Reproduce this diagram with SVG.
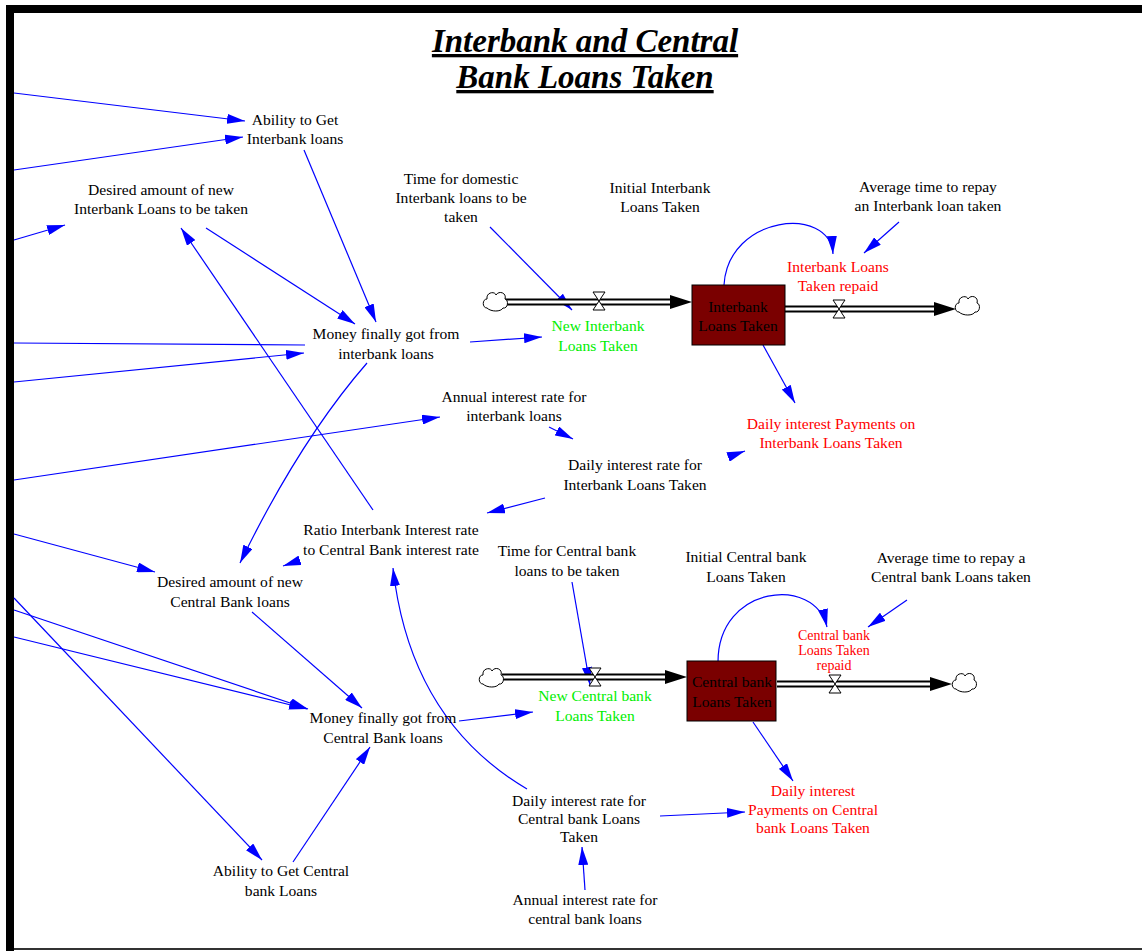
<svg xmlns="http://www.w3.org/2000/svg" width="1142" height="951" viewBox="0 0 1142 951">
<style>
text{font-family:"Liberation Serif","Times New Roman",serif;font-size:15.6px;text-anchor:middle;fill:#000}
.red{fill:#ff0000}
.grn{fill:#00ee00}
.sm{font-size:14px}
.title{font-size:33px;font-weight:bold;font-style:italic;text-decoration:underline}
.lk{fill:none;stroke:#0000ff;stroke-width:1.2;marker-end:url(#ah)}
.ln{fill:none;stroke:#0000ff;stroke-width:1.2}
.pipe{stroke:#000;stroke-width:7;fill:none}
.pipein{stroke:#fff;stroke-width:3;fill:none}
.valve{fill:#fff;stroke:#000;stroke-width:1}
.cloud{fill:#fff;stroke:#000;stroke-width:1}
.stock{fill:#7a0000;stroke:#000;stroke-width:1}
</style>
<defs>
<marker id="ah" viewBox="0 0 18 10" refX="18" refY="5" markerWidth="18" markerHeight="10" markerUnits="userSpaceOnUse" orient="auto">
<path d="M0,0 L18,5 L0,10 Z" fill="#0000ff"/>
</marker>
<path id="cl" class="cloud" d="M-8,7 C-13,7 -13,-2 -8,-2 C-9,-9 0,-10 1,-6 C4,-11 12,-8 10,-2 C14,-1 13,8 8,7 C6,11 -4,11 -8,7 Z"/>
<path id="vl" class="valve" d="M-6,-9 L6,-9 L-6,9 L6,9 Z"/>
</defs>
<rect width="1142" height="951" fill="#fff"/>
<g id="frame">
<rect x="6" y="5" width="1136" height="8" fill="#000"/>
<rect x="6" y="5" width="8" height="946" fill="#000"/>
<rect x="14" y="948" width="1128" height="2" fill="#333"/>
</g>
<g id="title">
<text class="title" x="585" y="52">Interbank and Central</text>
<text class="title" x="585" y="88">Bank Loans Taken</text>
</g>
<g id="connectors">
<line class="lk" x1="14" y1="93" x2="245" y2="121"/>
<line class="lk" x1="14" y1="170" x2="243" y2="137"/>
<line class="lk" x1="14" y1="240" x2="65" y2="225"/>
<line class="lk" x1="304" y1="150" x2="376" y2="322"/>
<line class="lk" x1="206" y1="228" x2="355" y2="324"/>
<line class="lk" x1="373" y1="510" x2="181" y2="228"/>
<line class="ln" x1="14" y1="343" x2="305" y2="345"/>
<line class="lk" x1="14" y1="382" x2="304" y2="353"/>
<path class="lk" d="M367,363 Q300,440 240,563"/>
<line class="lk" x1="14" y1="480" x2="440" y2="417"/>
<line class="lk" x1="14" y1="534" x2="155" y2="572"/>
<line class="lk" x1="545" y1="498" x2="487" y2="513"/>
<line class="lk" x1="549" y1="427" x2="573" y2="439"/>
<line class="lk" x1="728" y1="457" x2="745" y2="451"/>
<line class="lk" x1="763" y1="345" x2="795" y2="403"/>
<line class="lk" x1="490" y1="227" x2="572" y2="310"/>
<line class="lk" x1="470" y1="342" x2="542" y2="337"/>
<path class="lk" d="M724,285 C728,215 830,205 833,254"/>
<line class="lk" x1="899" y1="222" x2="864" y2="253"/>
<line class="lk" x1="572" y1="582" x2="590" y2="685"/>
<line class="lk" x1="459" y1="721" x2="533" y2="712"/>
<path class="lk" d="M718,662 C718,585 815,575 827,627"/>
<line class="lk" x1="907" y1="600" x2="868" y2="627"/>
<line class="lk" x1="753" y1="722" x2="793" y2="781"/>
<line class="lk" x1="660" y1="816" x2="745" y2="812"/>
<line class="lk" x1="585" y1="890" x2="582" y2="847"/>
<path class="lk" d="M527,789 Q410,720 393,568"/>
<line class="lk" x1="298" y1="561" x2="283" y2="566"/>
<line class="lk" x1="252" y1="612" x2="362" y2="708"/>
<line class="lk" x1="14" y1="610" x2="308" y2="709"/>
<line class="lk" x1="14" y1="637" x2="307" y2="709"/>
<line class="lk" x1="14" y1="598" x2="262" y2="860"/>
<line class="lk" x1="293" y1="862" x2="370" y2="747"/>
</g>
<g id="flow-interbank-in">
<line class="pipe" x1="505" y1="302" x2="672" y2="302"/>
<line class="pipein" x1="505" y1="302" x2="672" y2="302"/>
<polygon points="670,295 692,302 670,309" fill="#000"/>
<use href="#cl" x="495" y="301"/>
<use href="#vl" x="599" y="301"/>
</g>
<g id="flow-interbank-out">
<line class="pipe" x1="785" y1="309" x2="936" y2="309"/>
<line class="pipein" x1="785" y1="309" x2="936" y2="309"/>
<polygon points="934,302 956,309 934,316" fill="#000"/>
<use href="#cl" x="967" y="305"/>
<use href="#vl" x="839" y="309"/>
</g>
<g id="flow-central-in">
<line class="pipe" x1="502" y1="677" x2="667" y2="677"/>
<line class="pipein" x1="502" y1="677" x2="667" y2="677"/>
<polygon points="665,670 687,677 665,684" fill="#000"/>
<use href="#cl" x="491" y="677"/>
<use href="#vl" x="595" y="677"/>
</g>
<g id="flow-central-out">
<line class="pipe" x1="777" y1="684" x2="932" y2="684"/>
<line class="pipein" x1="777" y1="684" x2="932" y2="684"/>
<polygon points="930,677 952,684 930,691" fill="#000"/>
<use href="#cl" x="964" y="682"/>
<use href="#vl" x="835" y="684"/>
</g>
<g id="stock-interbank">
<rect class="stock" x="692" y="285" width="93" height="60"/>
<text x="738" y="312">Interbank</text>
<text x="738" y="331">Loans Taken</text>
</g>
<g id="stock-central">
<rect class="stock" x="687" y="661" width="89" height="60"/>
<text x="732" y="687">Central bank</text>
<text x="732" y="707">Loans Taken</text>
</g>
<g id="ability-interbank"><text x="295" y="125">Ability to Get</text><text x="295" y="144">Interbank loans</text></g>
<g id="desired-interbank"><text x="161" y="195">Desired amount of new</text><text x="161" y="214">Interbank Loans to be taken</text></g>
<g id="time-domestic"><text x="461" y="184">Time for domestic</text><text x="461" y="203">Interbank loans to be</text><text x="461" y="222">taken</text></g>
<g id="initial-interbank"><text x="660" y="193">Initial Interbank</text><text x="660" y="212">Loans Taken</text></g>
<g id="avg-time-interbank"><text x="928" y="192">Average time to repay</text><text x="928" y="211">an Interbank loan taken</text></g>
<g id="interbank-repaid"><text class="red" x="838" y="272">Interbank Loans</text><text class="red" x="838" y="291">Taken repaid</text></g>
<g id="new-interbank"><text class="grn" x="598" y="331">New Interbank</text><text class="grn" x="598" y="351">Loans Taken</text></g>
<g id="money-interbank"><text x="386" y="339">Money finally got from</text><text x="386" y="359">interbank loans</text></g>
<g id="annual-interbank"><text x="514" y="402">Annual interest rate for</text><text x="514" y="421">interbank loans</text></g>
<g id="payments-interbank"><text class="red" x="831" y="429">Daily interest Payments on</text><text class="red" x="831" y="448">Interbank Loans Taken</text></g>
<g id="daily-rate-interbank"><text x="635" y="470">Daily interest rate for</text><text x="635" y="490">Interbank Loans Taken</text></g>
<g id="ratio"><text x="391" y="535">Ratio Interbank Interest rate</text><text x="391" y="555">to Central Bank interest rate</text></g>
<g id="time-central"><text x="567" y="556">Time for Central bank</text><text x="567" y="576">loans to be taken</text></g>
<g id="initial-central"><text x="746" y="562">Initial Central bank</text><text x="746" y="582">Loans Taken</text></g>
<g id="avg-time-central"><text x="951" y="563">Average time to repay a</text><text x="951" y="582">Central bank Loans taken</text></g>
<g id="central-repaid"><text class="red sm" x="834" y="640">Central bank</text><text class="red sm" x="834" y="655">Loans Taken</text><text class="red sm" x="834" y="670">repaid</text></g>
<g id="new-central"><text class="grn" x="595" y="701">New Central bank</text><text class="grn" x="595" y="721">Loans Taken</text></g>
<g id="desired-central"><text x="230" y="587">Desired amount of new</text><text x="230" y="607">Central Bank loans</text></g>
<g id="money-central"><text x="383" y="723">Money finally got from</text><text x="383" y="743">Central Bank loans</text></g>
<g id="daily-rate-central"><text x="579" y="806">Daily interest rate for</text><text x="579" y="824">Central bank Loans</text><text x="579" y="842">Taken</text></g>
<g id="payments-central"><text class="red" x="813" y="796">Daily interest</text><text class="red" x="813" y="815">Payments on Central</text><text class="red" x="813" y="833">bank Loans Taken</text></g>
<g id="ability-central"><text x="281" y="876">Ability to Get Central</text><text x="281" y="896">bank Loans</text></g>
<g id="annual-central"><text x="585" y="905">Annual interest rate for</text><text x="585" y="924">central bank loans</text></g>
</svg>
